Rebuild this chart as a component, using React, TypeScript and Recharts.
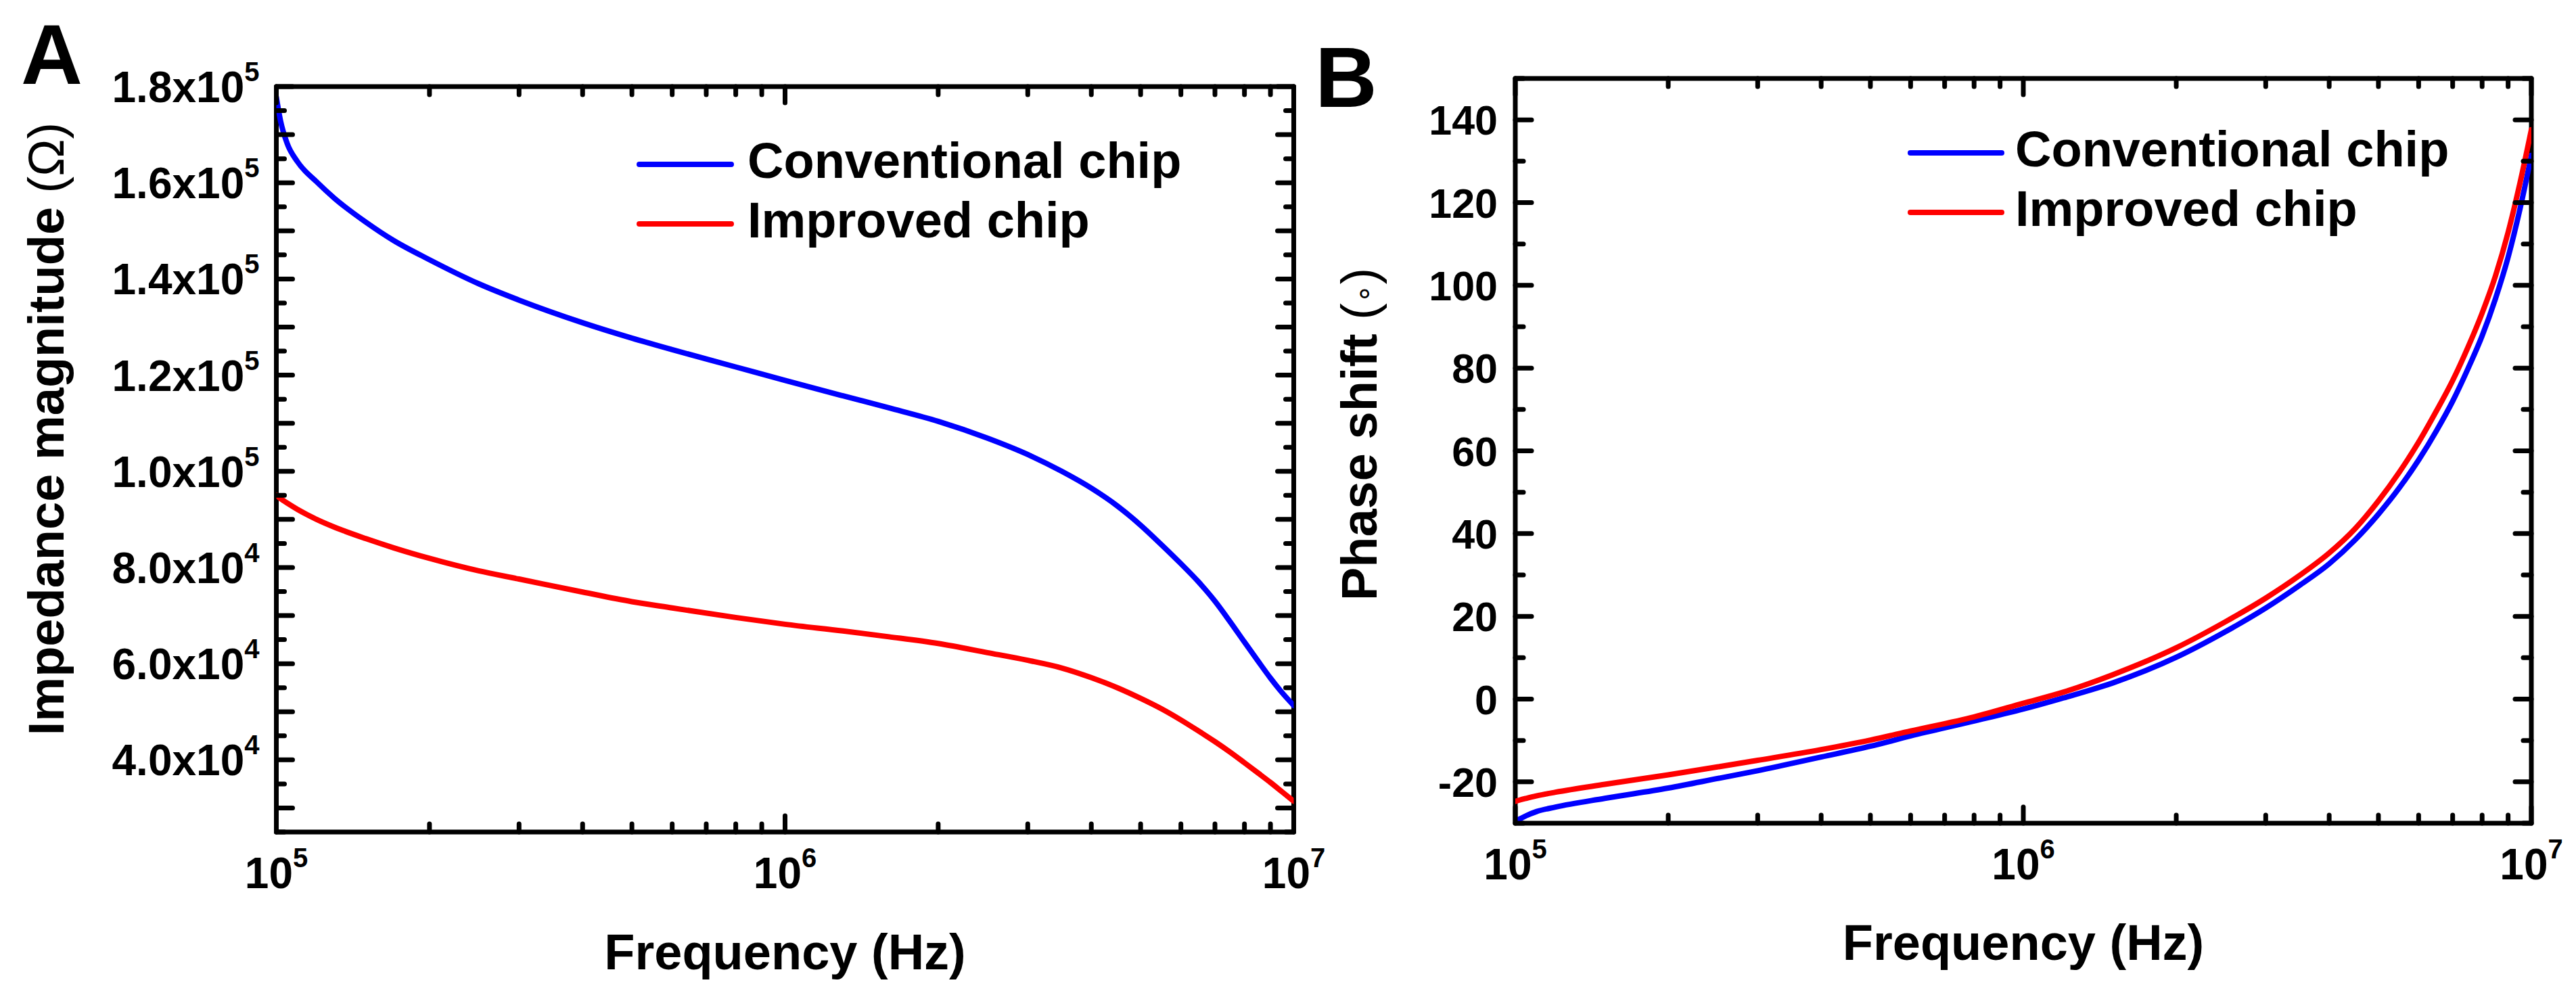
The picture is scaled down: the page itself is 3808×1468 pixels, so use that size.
import React from 'react';
import { LineChart, Line, XAxis, YAxis, ReferenceArea, Customized } from 'recharts';

// ---------------- data ----------------
const freqA = [100000, 102000, 105000, 110000, 120000, 130000, 150000, 170000, 200000, 250000, 300000, 400000, 500000, 600000, 800000, 1000000, 1300000, 1600000, 2000000, 2500000, 3000000, 3500000, 4000000, 4500000, 5000000, 5500000, 6000000, 6500000, 7000000, 7500000, 8000000, 8500000, 9000000, 9500000, 10000000];
const convA = [177800, 172700, 168200, 164400, 160200, 156800, 151800, 148000, 144000, 139000, 135600, 130900, 127700, 125300, 121700, 118900, 115700, 113200, 110400, 106900, 103500, 100000, 96500, 92800, 88800, 84700, 80800, 77000, 73000, 68700, 64500, 60600, 57000, 53900, 51300];
const impA = [95000, 94300, 93400, 92100, 90000, 88400, 86000, 84100, 81900, 79300, 77600, 74900, 72900, 71600, 69600, 68200, 66800, 65600, 64200, 62300, 60700, 59100, 57100, 55000, 52800, 50600, 48300, 46000, 43800, 41600, 39400, 37300, 35300, 33300, 31400];

const freqB = [100000, 102000, 105000, 110000, 120000, 150000, 200000, 250000, 300000, 400000, 500000, 600000, 800000, 1000000, 1200000, 1500000, 2000000, 2500000, 3000000, 3500000, 4000000, 4500000, 5000000, 5500000, 6000000, 6500000, 7000000, 7500000, 8000000, 8500000, 9000000, 9500000, 10000000];
const convB = [-29.6, -29.0, -28.2, -27.2, -26.1, -24.0, -21.5, -19.2, -17.3, -14.0, -11.4, -8.9, -5.3, -2.4, 0.3, 3.9, 10.1, 16.3, 22.0, 27.5, 32.7, 38.5, 44.7, 51.1, 57.8, 64.8, 72.0, 79.8, 87.8, 96.8, 106.8, 118.5, 131.4];
const impB = [-24.7, -24.4, -24.0, -23.4, -22.5, -20.6, -18.3, -16.4, -14.8, -12.2, -9.9, -7.7, -4.3, -1.0, 1.7, 5.9, 12.4, 18.7, 24.4, 29.9, 35.3, 41.2, 47.9, 54.9, 62.1, 69.6, 77.0, 85.0, 93.3, 102.3, 112.8, 124.8, 137.6];

const seriesKeys = ['conv', 'imp'];
const seriesNames = ['Conventional chip', 'Improved chip'];
const seriesColors = ['#0000ff', '#ff0000'];

const xTicks = [100000, 200000, 300000, 400000, 500000, 600000, 700000, 800000, 900000, 1000000, 2000000, 3000000, 4000000, 5000000, 6000000, 7000000, 8000000, 9000000, 10000000];
const xDomain = [100000, 10000000];

const yTicksA = [25000, 30000, 35000, 40000, 45000, 50000, 55000, 60000, 65000, 70000, 75000, 80000, 85000, 90000, 95000, 100000, 105000, 110000, 115000, 120000, 125000, 130000, 135000, 140000, 145000, 150000, 155000, 160000, 165000, 170000, 175000, 180000];
const yLabelsA = [40000, 60000, 80000, 100000, 120000, 140000, 160000, 180000];
const yDomainA = [25000, 180000];

const yTicksB = [-30, -20, -10, 0, 10, 20, 30, 40, 50, 60, 70, 80, 90, 100, 110, 120, 130, 140, 150];
const yLabelsB = [-20, 0, 20, 40, 60, 80, 100, 120, 140];
const yDomainB = [-30, 150];

const titleX = 'Frequency (Hz)';
const titleYA = 'Impedance magnitude ';
const unitYA = '(\u03A9)';
const titleYB = 'Phase shift ';
const unitYB = '\u2218';

const dataA = freqA.map((f, i) => ({ f, conv: convA[i], imp: impA[i] }));
const dataB = freqB.map((f, i) => ({ f, conv: convB[i], imp: impB[i] }));

// ---------------- layout ----------------
const FONT = "'Liberation Sans', Arial, Helvetica, sans-serif";
const H = 1468;

const PA = { ox: 0, w: 2000, top: 128, bottom: 1230, left: 408.5, right: 1912.5 };
const PB = { ox: 1930, w: 1878, top: 116, bottom: 1217, left: 2240 - 1930, right: 3742 - 1930 };

const AXW = 7;
const MAJ = 24;
const MIN = 12;
const LW = 8;

function isDecade(v: number) {
  const e = Math.round(Math.log10(v));
  return Math.abs(Math.pow(10, e) - v) < 1e-6 * v;
}

function makeXTick(P: any) {
  return (props: any) => {
    const { x, payload } = props;
    const v = payload.value;
    const dec = isDecade(v);
    const len = dec ? MAJ : MIN;
    const e = Math.round(Math.log10(v));
    return (
      <g>
        <line x1={x} x2={x} y1={P.bottom} y2={P.bottom - len} stroke="#000" strokeWidth={AXW} strokeLinecap="round" />
        <line x1={x} x2={x} y1={P.top} y2={P.top + len} stroke="#000" strokeWidth={AXW} strokeLinecap="round" />
        {dec && (
          <text x={x} y={P.bottom + 83} textAnchor="middle" fontFamily={FONT} fontWeight="bold" fontSize={64} fill="#000">
            10<tspan dy={-31} fontSize={40}>{e}</tspan>
          </text>
        )}
      </g>
    );
  };
}

function makeYTickA(P: any) {
  return (props: any) => {
    const { y, payload } = props;
    const v = payload.value;
    const long = v % 10000 === 0;
    const len = long ? MAJ : MIN;
    const labeled = yLabelsA.indexOf(v) >= 0;
    const e = Math.floor(Math.log10(v) + 1e-9);
    const m = (v / Math.pow(10, e)).toFixed(1);
    return (
      <g>
        <line x1={P.left} x2={P.left + len} y1={y} y2={y} stroke="#000" strokeWidth={AXW} strokeLinecap="round" />
        <line x1={P.right} x2={P.right - len} y1={y} y2={y} stroke="#000" strokeWidth={AXW} strokeLinecap="round" />
        {labeled && (
          <text x={P.left - 25} y={y + 23} textAnchor="end" fontFamily={FONT} fontWeight="bold" fontSize={64} fill="#000">
            {m + 'x10'}<tspan dy={-31} fontSize={40}>{e}</tspan>
          </text>
        )}
      </g>
    );
  };
}

function makeYTickB(P: any) {
  return (props: any) => {
    const { y, payload } = props;
    const v = payload.value;
    const labeled = yLabelsB.indexOf(v) >= 0;
    const len = labeled ? MAJ : MIN;
    return (
      <g>
        <line x1={P.left} x2={P.left + len} y1={y} y2={y} stroke="#000" strokeWidth={AXW} strokeLinecap="round" />
        <line x1={P.right} x2={P.right - len} y1={y} y2={y} stroke="#000" strokeWidth={AXW} strokeLinecap="round" />
        {labeled && (
          <text x={P.left - 26} y={y + 22} textAnchor="end" fontFamily={FONT} fontWeight="bold" fontSize={61} fill="#000">
            {String(v)}
          </text>
        )}
      </g>
    );
  };
}

function LegendBlock({ x0, x1, tx, y0, gap }: any) {
  return (
    <g>
      {seriesNames.map((n, i) => (
        <g key={n}>
          <line x1={x0} x2={x1} y1={y0 + i * gap} y2={y0 + i * gap} stroke={seriesColors[i]} strokeWidth={LW} strokeLinecap="round" />
          <text x={tx} y={y0 + i * gap + 20} fontFamily={FONT} fontWeight="bold" fontSize={74} fill="#000">{n}</text>
        </g>
      ))}
    </g>
  );
}

const OverlayA = () => (
  <g>
    <text x={31} y={124} fontFamily={FONT} fontWeight="bold" fontSize={126} fill="#000">A</text>
    <text x={(PA.left + PA.right) / 2} y={PA.bottom + 203} textAnchor="middle" fontFamily={FONT} fontWeight="bold" fontSize={74} fill="#000">{titleX}</text>
    <text x={94} y={634} transform="rotate(-90 94 634)" textAnchor="middle" fontFamily={FONT} fontWeight="bold" fontSize={74} fill="#000">
      {titleYA}<tspan fontWeight="normal">{unitYA}</tspan>
    </text>
    <LegendBlock x0={945} x1={1081} tx={1105} y0={243} gap={88} />
  </g>
);

const bx = (v: number) => v - PB.ox;

const OverlayB = () => (
  <g>
    <text x={bx(1944)} y={158} fontFamily={FONT} fontWeight="bold" fontSize={127} fill="#000">B</text>
    <text x={(PB.left + PB.right) / 2} y={PB.bottom + 202} textAnchor="middle" fontFamily={FONT} fontWeight="bold" fontSize={74} fill="#000">{titleX}</text>
    <text x={bx(2035)} y={642} transform={`rotate(-90 ${bx(2035)} 642)`} textAnchor="middle" fontFamily={FONT} fontWeight="bold" fontSize={74} fill="#000">
      {titleYB}<tspan fontWeight="normal">(</tspan><tspan fontWeight="normal" fontFamily="'DejaVu Sans', sans-serif" fontSize={44} dy={-4}>{unitYB}</tspan><tspan fontWeight="normal" dy={4}>)</tspan>
    </text>
    <LegendBlock x0={bx(2824)} x1={bx(2959)} tx={bx(2979)} y0={226} gap={88} />
  </g>
);

function Panel({ P, data, yDomain, yTicks, yTick, overlay }: any) {
  return (
    <div style={{ position: 'absolute', left: P.ox, top: 0, width: P.w, height: H }}>
      <LineChart
        width={P.w}
        height={H}
        data={data}
        margin={{ top: P.top, right: P.w - P.right, bottom: 0, left: 0 }}
      >
        <XAxis
          dataKey="f"
          type="number"
          scale="log"
          domain={xDomain}
          allowDataOverflow
          ticks={xTicks}
          interval={0}
          height={H - P.bottom}
          axisLine={false}
          tickLine={false}
          tick={makeXTick(P)}
        />
        <YAxis
          type="number"
          domain={yDomain}
          allowDataOverflow
          ticks={yTicks}
          interval={0}
          width={P.left}
          axisLine={false}
          tickLine={false}
          tick={yTick}
        />
        {seriesKeys.map((k, i) => (
          <Line
            key={k}
            dataKey={k}
            name={seriesNames[i]}
            type="monotone"
            stroke={seriesColors[i]}
            strokeWidth={LW}
            strokeLinecap="round"
            strokeLinejoin="round"
            dot={false}
            activeDot={false}
            isAnimationActive={false}
          />
        ))}
        <ReferenceArea
          x1={xDomain[0]}
          x2={xDomain[1]}
          y1={yDomain[0]}
          y2={yDomain[1]}
          fill="none"
          fillOpacity={0}
          stroke="#000"
          strokeWidth={AXW}
          strokeLinejoin="round"
          ifOverflow="visible"
        />
        <Customized component={overlay} />
      </LineChart>
    </div>
  );
}

export default function App() {
  return (
    <div style={{ position: 'absolute', left: 0, top: 0, width: 3808, height: H, background: '#fff', overflow: 'hidden' }}>
      <Panel P={PA} data={dataA} yDomain={yDomainA} yTicks={yTicksA} yTick={makeYTickA(PA)} overlay={OverlayA} />
      <Panel P={PB} data={dataB} yDomain={yDomainB} yTicks={yTicksB} yTick={makeYTickB(PB)} overlay={OverlayB} />
    </div>
  );
}
